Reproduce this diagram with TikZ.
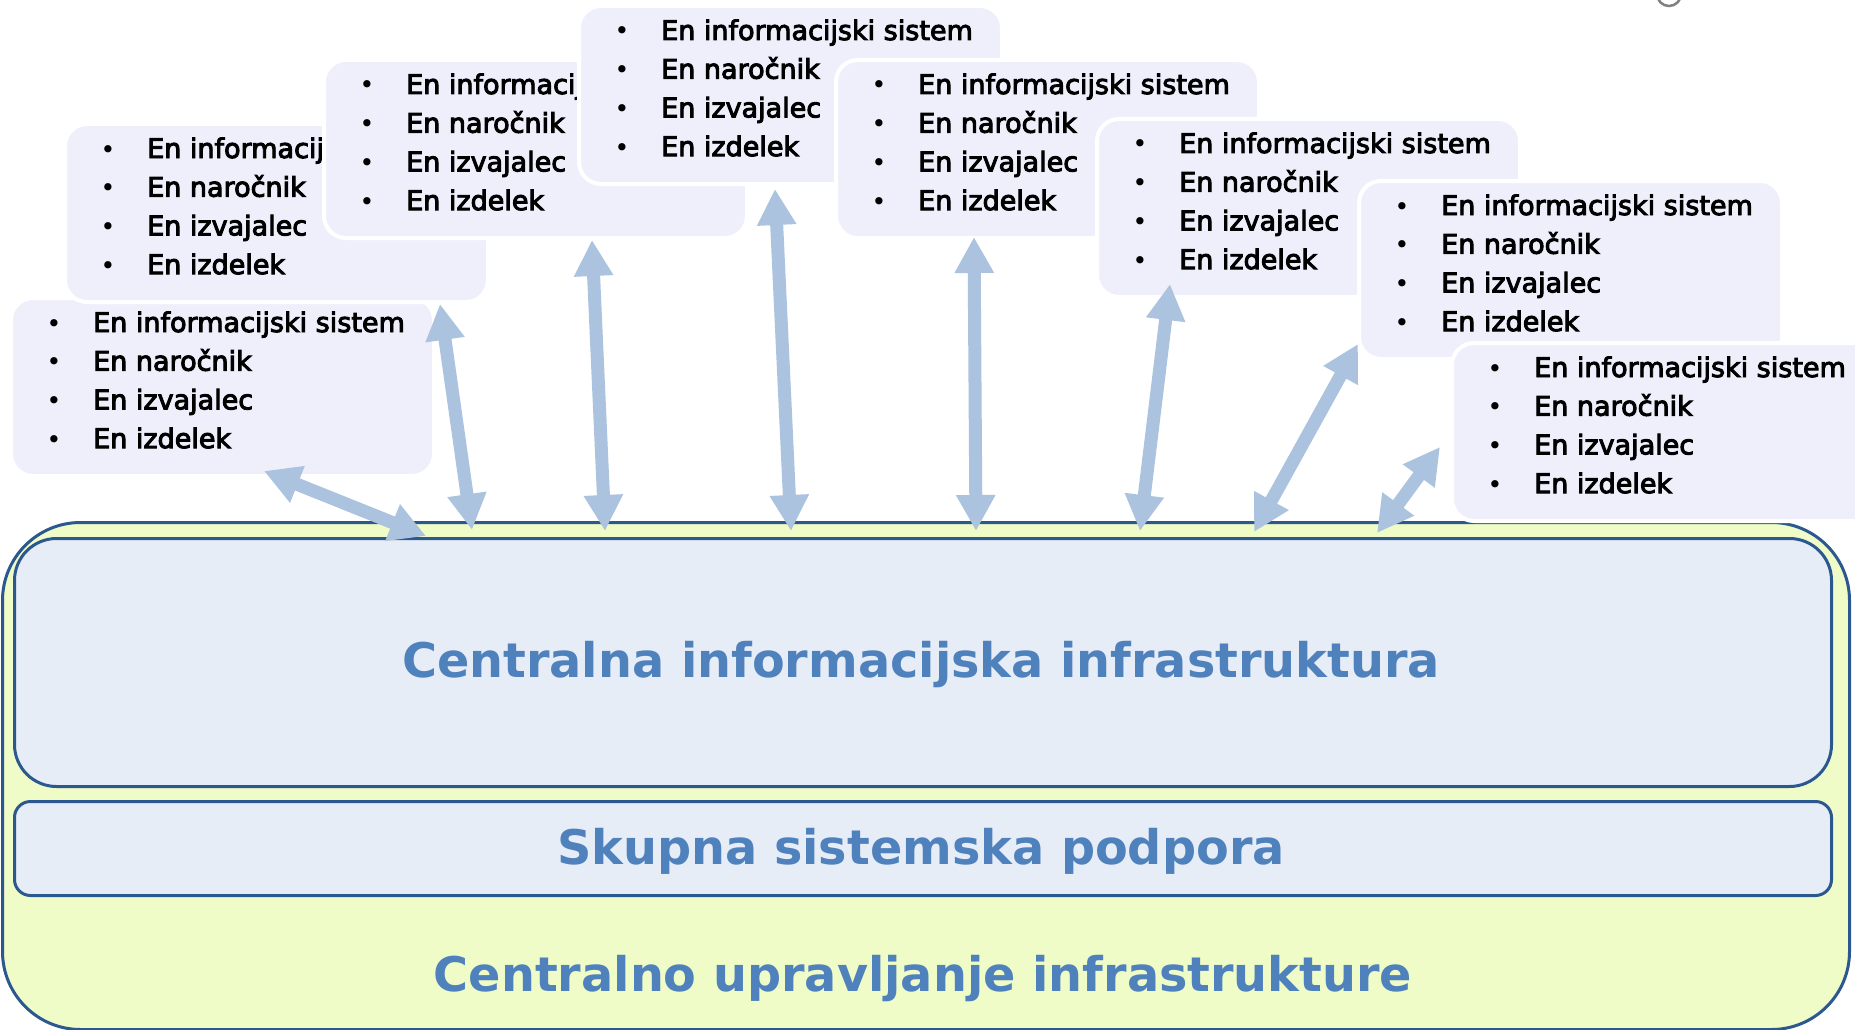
\documentclass[tikz,border=0pt]{standalone}
\usepackage{fontspec}
\setmainfont{DejaVu Sans}
\newfontfamily\listfont{DejaVu Sans}[FakeBold=3.5]
\usetikzlibrary{arrows.meta}
\definecolor{boxfill}{HTML}{EEEFFB}
\definecolor{arrowc}{HTML}{ABC3DF}
\definecolor{textblue}{HTML}{4F81BD}
\definecolor{innerfill}{HTML}{E6EDF6}
\definecolor{outerfill}{HTML}{EFFCC7}
\definecolor{edgeblue}{HTML}{2C5890}
\tikzset{
  lbox/.style={fill=boxfill, draw=white, line width=4pt, rounded corners=22pt,
    minimum width=423pt, minimum height=178pt, inner sep=0pt, anchor=north west},
  ltext/.style={font=\listfont\fontsize{27pt}{30pt}\selectfont, inner sep=0pt, anchor=base west, text=black},
  lbul/.style={font=\fontsize{25pt}{28pt}\selectfont, inner sep=0pt, anchor=base, text=black},
  bigtext/.style={font=\bfseries\fontsize{47.7pt}{54pt}\selectfont, text=textblue, inner sep=0pt, anchor=base},
  layer/.style={draw=edgeblue, fill=innerfill, line width=3pt, minimum width=1817pt,
    inner sep=0pt, anchor=north west},
  conn/.style={draw=arrowc, line width=13pt,
    {Triangle[width=37pt,length=36pt]}-{Triangle[width=37pt,length=36pt]}},
}
\newcommand\listbox[3]{%
  \node[lbox] (#1) at (#2,#3) {};
  \foreach \t [count=\k] in {En informacijski sistem, En naročnik, En izvajalec, En izdelek}{
    \node[lbul] (#1b\k) at ({#2+45},{#3+36+38.7*(\k-1)}) {\textbullet};
    \node[ltext] (#1t\k) at ({#2+84},{#3+36+38.7*(\k-1)}) {\t};
  }
}
\begin{document}
\begin{tikzpicture}[x=1pt,y=-1pt]
\path[use as bounding box] (0,0) rectangle (1855,1030);
\clip (0,0) rectangle (1855,1030);
\fill[white] (0,0) rectangle (1855,1030);
% outer box
\node[draw=edgeblue, fill=outerfill, line width=3pt, rounded corners=78pt,
  minimum width=1847pt, minimum height=507pt, inner sep=0pt, anchor=north west]
  (outer) at (1,521) {};
\node[layer, rounded corners=42pt, minimum height=248pt] (infra) at (13,537) {};
\node[layer, rounded corners=16pt, minimum height=94pt] (podpora) at (13,800) {};
\node[bigtext] (infratext) at (921,677) {Centralna informacijska infrastruktura};
\node[bigtext] (podporatext) at (921,864) {Skupna sistemska podpora};
\node[bigtext] (uprav) at (923,991) {Centralno upravljanje infrastrukture};
% list boxes
\listbox{b1}{9}{296}
\listbox{b2}{63}{122}
\listbox{b3}{322}{58}
\listbox{b4}{577}{4}
\listbox{b5}{834}{58}
\listbox{b6}{1095}{117}
\listbox{b7}{1357}{179}
\listbox{b8}{1450}{341}
% arrow end points
\coordinate (a1u) at (264,471); \coordinate (a1d) at (426,536);
\coordinate (a2u) at (440,304); \coordinate (a2d) at (472,530);
\coordinate (a3u) at (592,240); \coordinate (a3d) at (605,531);
\coordinate (a4u) at (775,189); \coordinate (a4d) at (791,531);
\coordinate (a5u) at (974,237); \coordinate (a5d) at (976,531);
\coordinate (a6u) at (1170,284); \coordinate (a6d) at (1140,531);
\coordinate (a7u) at (1358,344); \coordinate (a7d) at (1254,532);
\coordinate (a8u) at (1440,447); \coordinate (a8d) at (1377,533);
\foreach \i in {1,...,8}{\draw[conn] (a\i u) -- (a\i d);}
% partial icon at top right
\draw[gray, line width=2.5pt] (1669,-6) circle[radius=12pt];
\end{tikzpicture}
\end{document}
